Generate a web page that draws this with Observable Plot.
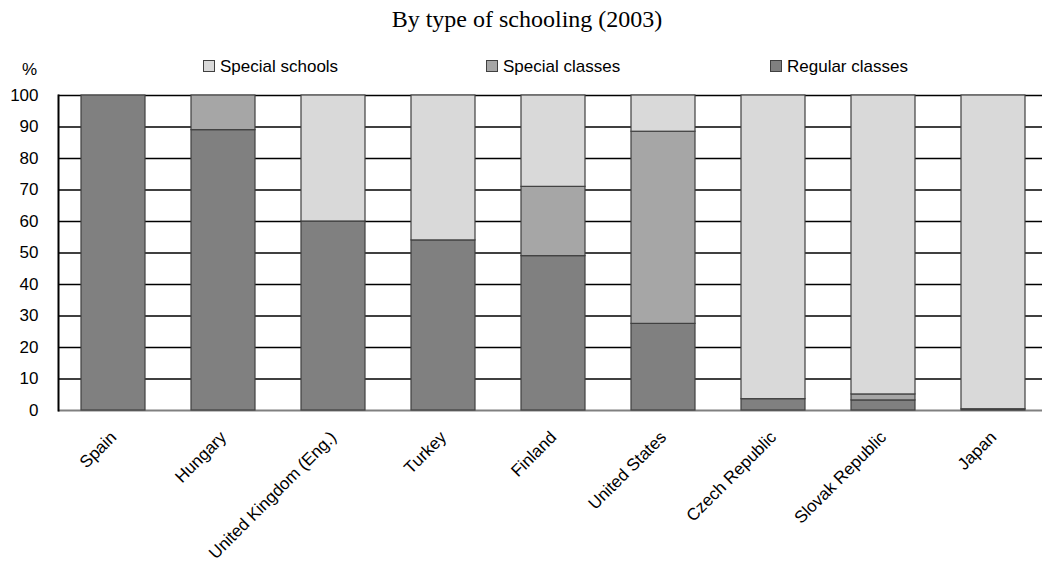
<!DOCTYPE html>
<html>
<head>
<meta charset="utf-8">
<script src="https://cdn.jsdelivr.net/npm/d3@7"></script>
<script src="https://cdn.jsdelivr.net/npm/@observablehq/plot@0.6"></script>
<style>
  html, body { margin: 0; padding: 0; background: #fff; }
  #wrap { position: relative; width: 1042px; height: 566px; overflow: hidden; font-family: "Liberation Sans", Arial, sans-serif; }
  #title { position: absolute; left: 0; width: 1030px; padding-left: 12px; top: 6px; text-align: center; font-family: "Liberation Serif", "Times New Roman", serif; font-size: 24px; color: #000; }
  .leg { position: absolute; top: 57px; font-size: 17px; color: #000; white-space: nowrap; }
  .sw { display: inline-block; width: 10px; height: 10px; border: 1px solid #404040; margin-right: 5px; vertical-align: 0px; }
  #pct { position: absolute; left: 22px; top: 60px; font-size: 17px; }
  #chart { position: absolute; left: 0; top: 0; }
  #chart svg g[aria-label="x-axis tick label"] text { font-size: 17px; }
</style>
</head>
<body>
<div id="wrap">
  <div id="chart"></div>
  <div id="title">By type of schooling (2003)</div>
  <div id="pct">%</div>
  <div id="legend"></div>
</div>
<script>
const countries = ["Spain", "Hungary", "United Kingdom (Eng.)", "Turkey", "Finland", "United States", "Czech Republic", "Slovak Republic", "Japan"];
const regularClasses = [100, 89, 60, 54, 49, 27.5, 3.6, 3.2, 0.4];
const specialClasses = [0, 11, 0, 0, 22, 61, 0, 1.9, 0];
const specialSchools = [0, 0, 40, 46, 29, 11.5, 96.4, 94.9, 99.6];
const seriesNames = ["Special schools", "Special classes", "Regular classes"];
const seriesColors = ["#d9d9d9", "#a6a6a6", "#808080"];
const yTicks = [0, 10, 20, 30, 40, 50, 60, 70, 80, 90, 100];

const rows = [];
countries.forEach((c, i) => {
  rows.push({country: c, type: "Regular classes", value: regularClasses[i]});
  rows.push({country: c, type: "Special classes", value: specialClasses[i]});
  rows.push({country: c, type: "Special schools", value: specialSchools[i]});
});
const data = rows.filter(d => d.value > 0);

const chart = Plot.plot({
  width: 1042,
  height: 566,
  marginTop: 95,
  marginBottom: 156,
  marginLeft: 58,
  marginRight: -6,
  style: {fontFamily: "'Liberation Sans', Arial, sans-serif", fontSize: "17px", background: "white", color: "black"},
  x: {domain: countries, padding: 0, label: null},
  y: {domain: [0, 100], label: null},
  color: {domain: seriesNames, range: seriesColors},
  marks: [
    Plot.gridY(yTicks.filter(t => t > 0), {stroke: "#000", strokeOpacity: 1, strokeWidth: 1.3}),
    Plot.ruleY([0], {stroke: "#808080", strokeWidth: 2}),
    Plot.barY(data, {
      x: "country", y: "value", fill: "type", z: "type",
      order: ["Regular classes", "Special classes", "Special schools"],
      stroke: "#404040", strokeWidth: 1.2,
      insetLeft: 23, insetRight: 23
    }),
    Plot.axisY({ticks: yTicks, tickSize: 0, tickPadding: 20, label: null, fontSize: 17}),
    Plot.axisX({tickSize: 0, tickRotate: -45, tickPadding: 24, label: null, fontSize: 17}),
    Plot.frame({anchor: "left", stroke: "#000", strokeWidth: 2})
  ]
});
document.getElementById("chart").appendChild(chart);

const legendPos = [203, 486, 770];
const leg = document.getElementById("legend");
seriesNames.forEach((name, i) => {
  const d = document.createElement("div");
  d.className = "leg";
  d.style.left = legendPos[i] + "px";
  d.innerHTML = `<span class="sw" style="background:${seriesColors[i]}"></span>${name}`;
  leg.appendChild(d);
});
</script>
</body>
</html>
